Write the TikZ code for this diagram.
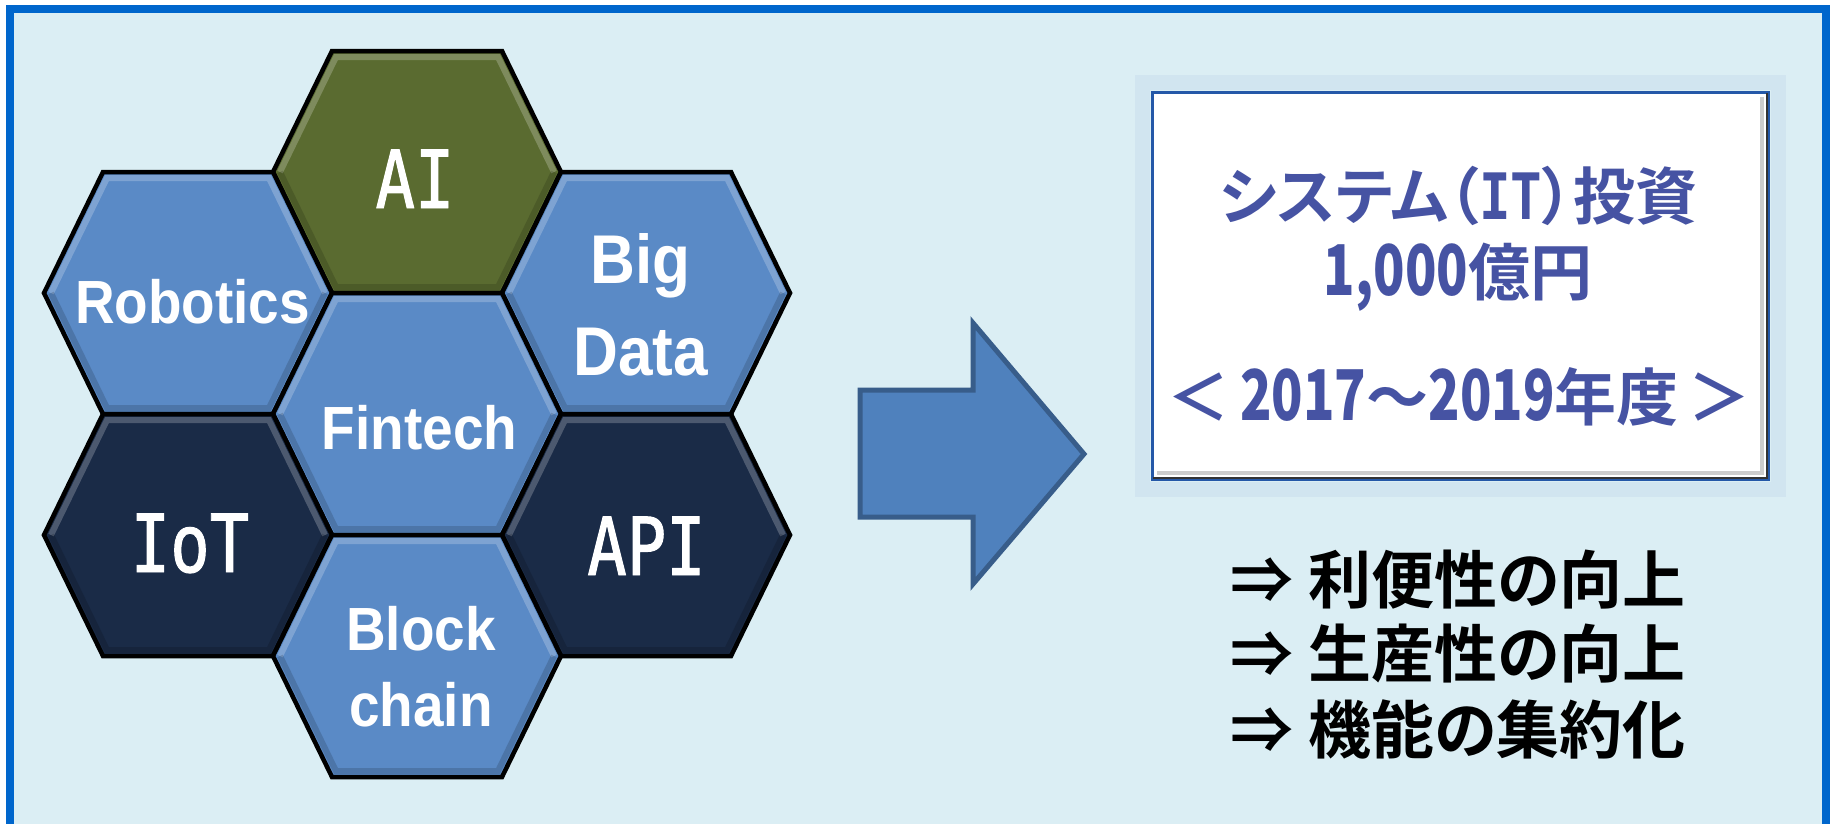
\documentclass[tikz,border=0pt]{standalone}
\usepackage{fontspec}
\newfontfamily\hexfont{Liberation Sans}[FakeStretch=0.9]
\newfontfamily\monofont{DejaVu Sans Mono}[FakeStretch=0.82, FakeBold=1.2]
\newfontfamily\monobold{DejaVu Sans Mono Bold}[FakeStretch=0.82]
\newfontfamily\jpfont{Noto Sans CJK JP}[RawFeature=+palt, BoldFont={Noto Sans CJK JP Bold}]
\newfontfamily\jpnarrow{Noto Sans CJK JP Bold}[FakeStretch=0.74]
\newcommand{\boxdig}[1]{{\fontsize{70}{72}\jpnarrow #1}}
\newcommand{\boxit}[1]{{\fontsize{64}{70}\monobold #1}}
\definecolor{bgc}{HTML}{DBEEF4}
\definecolor{framec}{HTML}{0066CC}
\definecolor{hexblue}{HTML}{5A8AC6}
\definecolor{hexnavy}{HTML}{1A2B47}
\definecolor{hexolive}{HTML}{5A6B30}
\definecolor{arrowfill}{HTML}{4F81BD}
\definecolor{arrowline}{HTML}{385D8A}
\definecolor{boxtext}{HTML}{4653A3}
\definecolor{boxline}{HTML}{2458A8}
\definecolor{glowc}{HTML}{8FA9DA}
\newcommand{\hexcell}[3]{%
  \fill[#3, shift={(#1,#2)}] (-144,0) -- (-85,-121) -- (85,-121) -- (144,0) -- (85,121) -- (-85,121) -- cycle;
  \draw[white, opacity=0.22, line width=6, shift={(#1,#2)}] (-137,0) -- (-81,-115) -- (81,-115) -- (137,0);
  \draw[black, opacity=0.15, line width=6, shift={(#1,#2)}] (-137,0) -- (-81,115) -- (81,115) -- (137,0);
  \draw[hexline, shift={(#1,#2)}] (-144,0) -- (-85,-121) -- (85,-121) -- (144,0) -- (85,121) -- (-85,121) -- cycle;}
\begin{document}
\begin{tikzpicture}[x=1pt,y=-1pt,
  hexline/.style={black, line width=4.5, line join=miter},
  hextext/.style={text=white, inner sep=0, font=\hexfont\bfseries},
  monotext/.style={text=white, inner sep=0, font=\monofont\fontsize{80}{84}\selectfont},
  boxtxt/.style={text=boxtext, inner sep=0, font=\jpfont\bfseries\fontsize{62}{70}\selectfont},
  resulttxt/.style={text=black, inner sep=0, font=\jpfont\bfseries\fontsize{63}{70}\selectfont}]
\clip (0,0) rectangle (1831,823);
% background frame
\draw[framec, fill=bgc, line width=8] (10,9) rectangle (1826,830);
% hexagons
\hexcell{417}{172}{hexolive}
\hexcell{188}{293}{hexblue}
\hexcell{646}{293}{hexblue}
\hexcell{417}{414}{hexblue}
\hexcell{188}{535}{hexnavy}
\hexcell{646}{535}{hexnavy}
\hexcell{417}{656}{hexblue}
% hexagon labels
\node[monotext, anchor=base] (ai) at (415,208) {AI};
\node[hextext, anchor=base, font=\hexfont\bfseries\fontsize{61}{70}\selectfont] (robotics) at (192.5,323) {Robotics};
\node[hextext, anchor=north, align=center, font=\hexfont\bfseries\fontsize{69}{92}\selectfont] (bigdata) at (640.5,233.6) {Big\\Data};
\node[hextext, anchor=base, font=\hexfont\bfseries\fontsize{61}{70}\selectfont] (fintech) at (419.5,449) {Fintech};
\node[monotext, anchor=base] (iot) at (190,572) {IoT};
\node[monotext, anchor=base] (api) at (646.5,575) {API};
\node[hextext, anchor=north, align=center, font=\hexfont\bfseries\fontsize{61}{76}\selectfont] (block) at (421,606) {Block\\chain};
% block arrow
\draw[arrowline, fill=arrowfill, line width=5, line join=miter]
  (860,390) -- (973,390) -- (973,323) -- (1084,454) -- (973,584) -- (973,517) -- (860,517) -- cycle;
% result box with soft glow
\foreach \g in {16,13,10,7,4} {
  \draw[glowc, line width=3, opacity=0.12] ({1152-\g},{92-\g}) rectangle ({1768+\g},{479+\g});
}
\draw[boxline, fill=white, line width=3] (1152,92) rectangle (1768,479);
\draw[gray!40, line width=4] (1762,97) -- (1762,473) -- (1157,473);
\draw[black!80, line width=2.5] (1767,93) -- (1767,478) -- (1153,478);
\node[boxtxt, anchor=base] (line1) at (1458.5,219) {システム（\boxit{IT}）投資};
\node[boxtxt, anchor=base] (line2) at (1458,295) {\boxdig{1,000}億円};
\node[boxtxt, anchor=base] (line3) at (1459.5,420) {＜\,\boxdig{2017}～\boxdig{2019}年度\,＞};
% results
\node[resulttxt, anchor=base] (res1) at (1458,603.5) {⇒ 利便性の向上};
\node[resulttxt, anchor=base] (res2) at (1458,677.5) {⇒ 生産性の向上};
\node[resulttxt, anchor=base] (res3) at (1458,753.5) {⇒ 機能の集約化};
\end{tikzpicture}
\end{document}
